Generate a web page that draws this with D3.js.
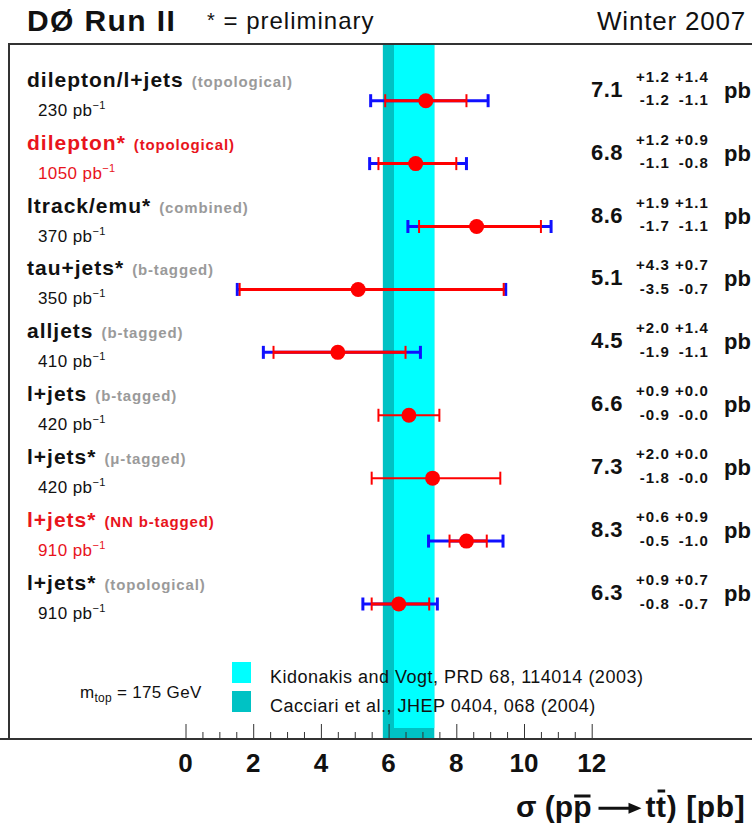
<!DOCTYPE html>
<html><head><meta charset="utf-8">
<script src="https://cdn.jsdelivr.net/npm/d3@7"></script>
<style>
html,body{margin:0;padding:0;background:#fff;}
svg{display:block;}
text{font-family:"Liberation Sans",Arial,sans-serif;}
</style></head>
<body>
<svg id="chart" width="752" height="829"></svg>
<script>
// ---- data ----
const categories = ["dilepton/l+jets","dilepton*","ltrack/emu*","tau+jets*","alljets","l+jets","l+jets*","l+jets*","l+jets*"];
const methods = ["(topological)","(topological)","(combined)","(b-tagged)","(b-tagged)","(b-tagged)","(\u03bc-tagged)","(NN b-tagged)","(topological)"];
const lumi = [230,1050,370,350,410,420,420,910,910];
const highlight = [false,true,false,false,false,false,false,true,false];
const xsec = [7.1,6.8,8.6,5.1,4.5,6.6,7.3,8.3,6.3];
const statUp = [1.2,1.2,1.9,4.3,2.0,0.9,2.0,0.6,0.9];
const statDn = [1.2,1.1,1.7,3.5,1.9,0.9,1.8,0.5,0.8];
const systUp = [1.4,0.9,1.1,0.7,1.4,0.0,0.0,0.9,0.7];
const systDn = [1.1,0.8,1.1,0.7,1.1,0.0,0.0,1.0,0.7];
const totUp = [1.84,1.50,2.20,4.36,2.44,0.9,2.0,1.08,1.14];
const totDn = [1.63,1.36,2.03,3.57,2.20,0.9,1.8,1.12,1.06];
const theoryNames = ["Cacciari et al., JHEP 0404, 068 (2004)","Kidonakis and Vogt, PRD 68, 114014 (2003)"];
const theoryLo = [5.83,6.16];
const theoryHi = [7.35,7.35];
const theoryColors = ["#00c2c4","#00ffff"];
const tickValues = [0,2,4,6,8,10,12];

// ---- layout ----
const svg = d3.select("#chart");
const frame = {left:9, top:44, bottom:739};
const x = d3.scaleLinear().domain([0,12]).range([185.5,591.7]);
const y = d3.scalePoint().domain(d3.range(categories.length)).range([100.7,604]);
const RED = "#ff0000", BLUE = "#1010ff", DARK="#111", HRED="#e8141c";

// header
svg.append("text").attr("x",27).attr("y",31).attr("font-size",30).attr("letter-spacing",1.4).attr("font-weight","bold").attr("fill",DARK).text("D\u00d8 Run II");
const pre = svg.append("text").attr("x",207).attr("y",29).attr("font-size",24).attr("letter-spacing",1.0).attr("fill",DARK);
pre.append("tspan").attr("font-size",20).attr("dy",-2).text("*");
pre.append("tspan").attr("dy",2).text(" = preliminary");
svg.append("text").attr("x",746).attr("y",30).attr("font-size",26).attr("letter-spacing",0.8).attr("text-anchor","end").attr("fill",DARK).text("Winter 2007");

// theory bands
const bandBottom = [frame.bottom, frame.bottom-11];
svg.append("g").selectAll("rect").data(theoryLo).join("rect")
  .attr("x",(d,i)=>x(d)).attr("width",(d,i)=>x(theoryHi[i])-x(d))
  .attr("y",frame.top+1).attr("height",(d,i)=>bandBottom[i]-frame.top-1)
  .attr("fill",(d,i)=>theoryColors[i]);

// frame
svg.append("path").attr("d",`M${frame.left},${frame.bottom} V${frame.top} H760`)
  .attr("fill","none").attr("stroke","#333").attr("stroke-width",2);

// axis
const axis = d3.axisTop(x).tickValues(d3.range(0,12.01,0.5)).tickSize(7).tickFormat("");
const ag = svg.append("g").attr("transform",`translate(0,${frame.bottom})`).call(axis);
ag.select(".domain").remove();
ag.selectAll(".tick line").attr("stroke","#333").attr("stroke-width",1)
  .attr("y2",d=>tickValues.includes(d)?-15:-7);
svg.append("line").attr("x1",0).attr("x2",752).attr("y1",frame.bottom).attr("y2",frame.bottom)
  .attr("stroke","#333").attr("stroke-width",2);
svg.append("g").selectAll("text").data(tickValues).join("text")
  .attr("x",d=>x(d)).attr("y",772).attr("text-anchor","middle")
  .attr("font-size",26).attr("font-weight","bold").attr("fill",DARK).text(d=>d);

// axis title: σ (p p̄ → t t̄) [pb]
const title = svg.append("text").attr("x",516).attr("y",817)
  .attr("font-size",30).attr("font-weight","bold").attr("fill",DARK);
const t1 = title.append("tspan").text("\u03c3 (pp");
const t2 = title.append("tspan").attr("dx",54).attr("letter-spacing",0.6).text("tt) [pb]");
{
  const n1 = t1.node().getNumberOfChars();
  const pE = title.node().getExtentOfChar(n1-1);
  const tE = title.node().getExtentOfChar(n1+1);
  const tS = title.node().getExtentOfChar(n1);
  svg.append("line").attr("x1",pE.x+1).attr("x2",pE.x+pE.width-1)
    .attr("y1",pE.y+6).attr("y2",pE.y+6).attr("stroke",DARK).attr("stroke-width",3);
  svg.append("line").attr("x1",tE.x+1.5).attr("x2",tE.x+tE.width-1.5)
    .attr("y1",tE.y+1).attr("y2",tE.y+1).attr("stroke",DARK).attr("stroke-width",3);
  const ax0 = pE.x+pE.width+7, ax1 = tS.x-4, ay = pE.y+pE.height*0.55;
  svg.append("line").attr("x1",ax0).attr("x2",ax1-10).attr("y1",ay).attr("y2",ay)
    .attr("stroke",DARK).attr("stroke-width",3);
  svg.append("path").attr("d",`M${ax1},${ay} L${ax1-13},${ay-5.5} L${ax1-13},${ay+5.5} Z`).attr("fill",DARK);
}

// legend
const legY = [691,662];
svg.append("g").selectAll("rect").data(theoryNames).join("rect")
  .attr("x",232).attr("y",(d,i)=>legY[i]).attr("width",19).attr("height",21)
  .attr("fill",(d,i)=>theoryColors[i]);
svg.append("g").selectAll("text").data(theoryNames).join("text")
  .attr("x",270).attr("y",(d,i)=>legY[i]+21).attr("font-size",18).attr("letter-spacing",0.5).attr("fill",DARK).text(d=>d);
const mt = svg.append("text").attr("x",80).attr("y",698).attr("font-size",17).attr("letter-spacing",0.3).attr("fill",DARK);
mt.append("tspan").text("m");
mt.append("tspan").attr("font-size",12).attr("dy",4).text("top");
mt.append("tspan").attr("dy",-4).text(" = 175 GeV");

// error bars
const rows = svg.append("g").selectAll("g").data(xsec).join("g")
  .attr("transform",(d,i)=>`translate(0,${y(i)})`);
const capH = 6.5;
rows.each(function(d,i){
  const g = d3.select(this);
  const hasSyst = systUp[i]>0 || systDn[i]>0;
  if (hasSyst){
    g.append("line").attr("x1",x(d-totDn[i])).attr("x2",x(d+totUp[i])).attr("stroke",BLUE).attr("stroke-width",3);
    [d-totDn[i], d+totUp[i]].forEach(v=>g.append("line").attr("x1",x(v)).attr("x2",x(v))
      .attr("y1",-capH).attr("y2",capH).attr("stroke",BLUE).attr("stroke-width",3));
  }
  const rw = hasSyst ? 3 : 2;
  g.append("line").attr("x1",x(d-statDn[i])).attr("x2",x(d+statUp[i])).attr("stroke",RED).attr("stroke-width",rw);
  [d-statDn[i], d+statUp[i]].forEach(v=>g.append("line").attr("x1",x(v)).attr("x2",x(v))
    .attr("y1",-capH).attr("y2",capH).attr("stroke",RED).attr("stroke-width",2));
  g.append("circle").attr("cx",x(d)).attr("r",7.5).attr("fill",RED);
});

// left labels
rows.each(function(d,i){
  const g = d3.select(this);
  const col = highlight[i] ? HRED : DARK;
  const t = g.append("text").attr("x",27).attr("y",-14).attr("fill",col);
  t.append("tspan").attr("font-size",21).attr("font-weight","bold").attr("letter-spacing",1.0).text(categories[i]);
  t.append("tspan").attr("font-size",15).attr("font-weight","bold").attr("letter-spacing",0.85)
    .attr("dx",8).attr("fill",highlight[i]?HRED:"#9a9a9a").text(methods[i]);
  const l = g.append("text").attr("x",38).attr("y",15).attr("fill",col).attr("font-size",17).attr("letter-spacing",0.4);
  l.append("tspan").text(lumi[i]+" pb");
  l.append("tspan").attr("font-size",11).attr("dy",-7).text("\u22121");
});

// right values
const fmt = d3.format(".1f");
rows.each(function(d,i){
  const g = d3.select(this);
  const small = (xx,yy,s)=>g.append("text").attr("x",xx).attr("y",yy).attr("text-anchor","end")
    .attr("font-size",15).attr("letter-spacing",1.1).attr("font-weight","bold").attr("fill",DARK).text(s);
  g.append("text").attr("x",591).attr("y",-4).attr("font-size",22).attr("letter-spacing",0.5).attr("font-weight","bold").attr("fill",DARK).text(fmt(d));
  small(670,-19,"+"+fmt(statUp[i]));
  small(709,-19,"+"+fmt(systUp[i]));
  small(670,4.5,"-"+fmt(statDn[i]));
  small(709,4.5,"-"+fmt(systDn[i]));
  g.append("text").attr("x",724).attr("y",-3).attr("font-size",22).attr("font-weight","bold").attr("fill",DARK).text("pb");
});
</script>
</body></html>
